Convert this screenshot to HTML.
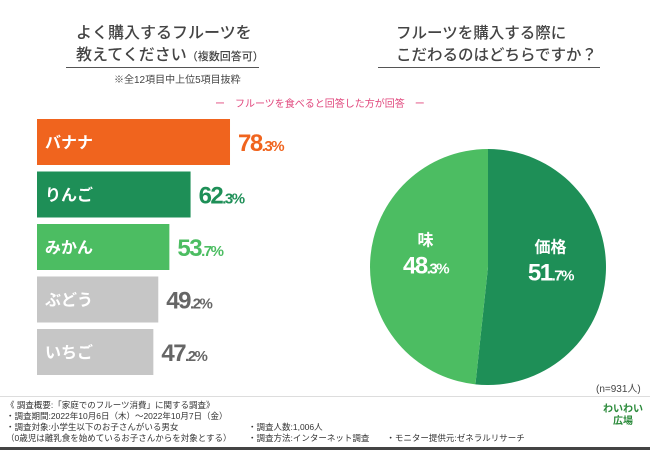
<!DOCTYPE html>
<html><head><meta charset="utf-8"><style>
body{margin:0;width:650px;height:450px;overflow:hidden;background:#fff;font-family:"Liberation Sans","Noto Sans CJK JP",sans-serif;position:relative}
.a{position:absolute;white-space:nowrap}
</style></head><body>
<div class="a" style="left:76px;top:23px;font-size:16px;line-height:22px;color:#444;font-weight:500">よく購入するフルーツを<br>教えてください<span style="font-size:11px">（複数回答可）</span></div>
<div class="a" style="left:66px;top:67px;width:193px;height:1px;background:#555"></div>
<div class="a" style="left:114px;top:71px;font-size:10px;color:#444">※全12項目中上位5項目抜粋</div>
<div class="a" style="left:215px;top:95px;font-size:10px;color:#e0457b">ー　フルーツを食べると回答した方が回答　ー</div>
<div class="a" style="left:396px;top:23px;font-size:15.5px;line-height:22px;color:#444;font-weight:500">フルーツを購入する際に<br>こだわるのはどちらですか？</div>
<div class="a" style="left:378px;top:67px;width:222px;height:1px;background:#555"></div>
<svg class="a" style="left:0;top:0" width="650" height="450">
<g id="bars"></g><g id="pie"></g>
</svg>
<div class="a" style="left:596px;top:380px;font-size:10px;color:#444">(n=931人)</div>
<div class="a" style="left:0;top:396px;width:650px;height:1px;background:#ddd"></div>
<div class="a" style="left:6px;top:400px;font-size:8.5px;line-height:11px;color:#333">《 調査概要:「家庭でのフルーツ消費」に関する調査》<br>・調査期間:2022年10月6日（木）～2022年10月7日（金）<br>・調査対象:小学生以下のお子さんがいる男女<br>（0歳児は離乳食を始めているお子さんからを対象とする）</div>
<div class="a" style="left:248px;top:422px;font-size:8.5px;line-height:11px;color:#333">・調査人数:1,006人<br>・調査方法:インターネット調査　　・モニター提供元:ゼネラルリサーチ</div>
<div class="a" style="left:603px;top:404px;font-size:10px;line-height:12px;color:#2a8a3a;font-weight:bold;text-align:center">わいわい<br>広場</div>
<div class="a" style="left:0;top:447px;width:650px;height:3px;background:#444"></div>
<script>
const categories=["バナナ","りんご","みかん","ぶどう","いちご"];
const values=[78.3,62.3,53.7,49.2,47.2];
const pieLabels=["価格","味"];
const pieValues=[51.7,48.3];
const ns="http://www.w3.org/2000/svg";
const barColors=["#f0641e","#1e8f57","#4cbd62","#c6c6c6","#c6c6c6"];
const textColors=["#f0641e","#1e8f57","#4cbd62","#666","#666"];
const x0=37,scale=2.465,y0=119,pitch=52.5,bh=46;
const bg=document.getElementById('bars');
function mk(t,attrs){const e=document.createElementNS(ns,t);for(const k in attrs)e.setAttribute(k,attrs[k]);return e;}
categories.forEach((c,i)=>{
 const y=y0+i*pitch,w=values[i]*scale;
 const r=mk('rect',{x:x0,y:y,width:w,height:bh,fill:barColors[i]});
 
 
 bg.appendChild(r);
 const t=mk('text',{x:x0+8,y:y+bh/2+6,fill:'#fff','font-size':16,'font-weight':'bold'});
 t.textContent=c;
 
 
 bg.appendChild(t);
 const s=values[i].toFixed(1).split('.');
 const v=mk('text',{x:x0+w+8,y:y+bh/2+9,fill:textColors[i],'font-size':24,'font-weight':'bold','letter-spacing':'-1.5'});
 v.innerHTML=s[0]+'<tspan font-size="15">.'+s[1]+'%</tspan>';
 
 
 bg.appendChild(v);
});
const pg=document.getElementById('pie');
const cx=488,cy=267,R=118,pc=["#1e8f57","#4cbd62"];
let a=0;const tot=pieValues.reduce((p,q)=>p+q,0);
pieValues.forEach((v,i)=>{
 const a1=a+v/tot*2*Math.PI;
 const p=(ang)=>[cx+R*Math.sin(ang),cy-R*Math.cos(ang)];
 const [x1,y1]=p(a),[x2,y2]=p(a1);
 const path=mk('path',{d:`M${cx},${cy}L${x1},${y1}A${R},${R} 0 ${a1-a>Math.PI?1:0} 1 ${x2},${y2}Z`,fill:pc[i]});
 
 
 pg.appendChild(path);
 const m=(a+a1)/2,lx=cx+R*0.53*Math.sin(m),ly=cy-R*0.53*Math.cos(m)-6;
 const t=mk('text',{x:lx,y:ly-12,fill:'#fff','font-size':16,'font-weight':'bold','text-anchor':'middle'});
 t.textContent=pieLabels[i];
 
 
 pg.appendChild(t);
 const s=v.toFixed(1).split('.');
 const tv=mk('text',{x:lx,y:ly+16,fill:'#fff','font-size':24,'font-weight':'bold','text-anchor':'middle','letter-spacing':'-1.5'});
 tv.innerHTML=s[0]+'<tspan font-size="15">.'+s[1]+'%</tspan>';
 
 
 pg.appendChild(tv);
 a=a1;
});
</script>
</body></html>
